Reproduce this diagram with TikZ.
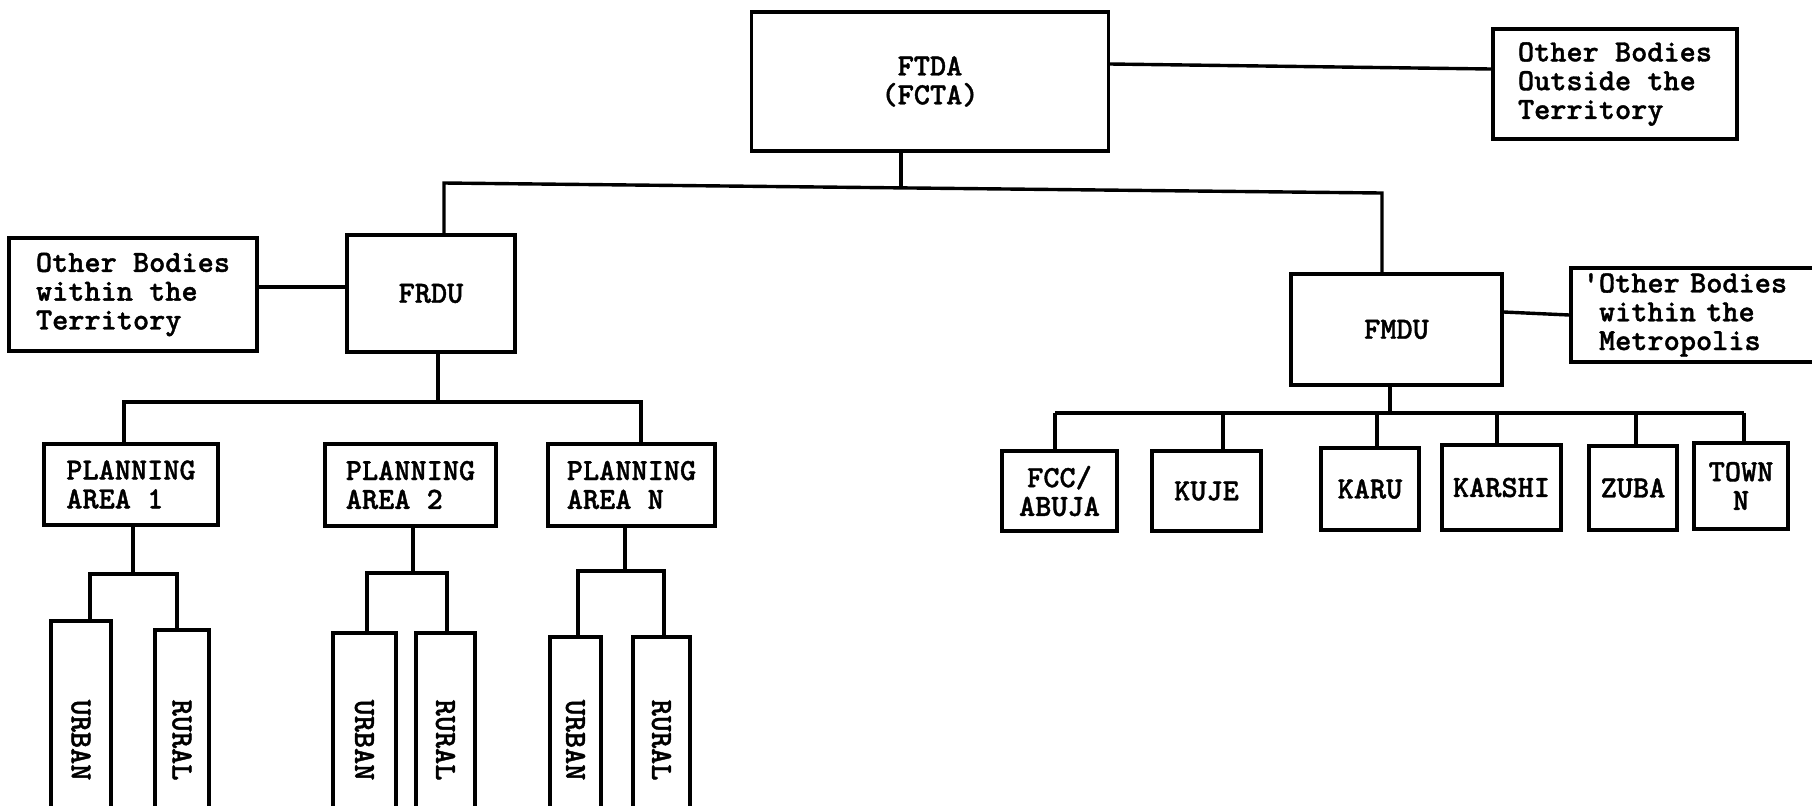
\documentclass[tikz,border=0pt]{standalone}
\usepackage{fontspec}
\newfontfamily\tw{lmmonolt10-bold.otf}[FakeBold=1.2]
\begin{document}
\begin{tikzpicture}[x=0.5pt,y=-0.5pt,
  ln/.style={line width=1.7pt},
  box/.style={draw,line width=1.7pt,inner sep=0pt,align=center,font=\tw\fontsize{15.4pt}{14.4pt}\selectfont},
  lbox/.style={box,align=left}]
\useasboundingbox (0,0) rectangle (1812,805);
\clip (0,0) rectangle (1812,805);
% top level
\node[box,minimum width=178.5pt,minimum height=69.5pt] (ftda) at (930,81.5) {FTDA\\(FCTA)};
\node[lbox,minimum width=122pt,minimum height=55pt] (outside) at (1615,84) {Other Bodies\\Outside the\\Territory};
% second level
\node[box,minimum width=84pt,minimum height=58.5pt] (frdu) at (431,293.5) {FRDU};
\node[lbox,minimum width=124pt,minimum height=56.5pt] (terr) at (133,294.5) {Other Bodies\\within the\\Territory};
\node[box,minimum width=105.5pt,minimum height=55.5pt] (fmdu) at (1396.5,329.5) {FMDU};
\node[box,align=left,text width=116pt,inner xsep=14pt,minimum height=47pt] (metro) at (1715,315) {\llap{'}Other Bodies\\within the\\Metropolis};
% planning areas
\node[lbox,minimum width=87pt,minimum height=40.5pt] (pa1) at (131,484.5) {PLANNING\\AREA 1};
\node[lbox,minimum width=85.5pt,minimum height=41pt] (pa2) at (410.5,485) {PLANNING\\AREA 2};
\node[lbox,minimum width=83.5pt,minimum height=41pt] (paN) at (631.5,485) {PLANNING\\AREA N};
% urban / rural
\node[box,minimum width=30pt,minimum height=119pt] (urban1) at (81,740) {\rotatebox{-90}{URBAN}};
\node[box,minimum width=27pt,minimum height=110pt] (rural1) at (182,740) {\rotatebox{-90}{RURAL}};
\node[box,minimum width=31.5pt,minimum height=107pt] (urban2) at (364.5,740) {\rotatebox{-90}{URBAN}};
\node[box,minimum width=29.5pt,minimum height=107pt] (rural2) at (445.5,740) {\rotatebox{-90}{RURAL}};
\node[box,minimum width=25.5pt,minimum height=103pt] (urbanN) at (575.5,740) {\rotatebox{-90}{URBAN}};
\node[box,minimum width=28.5pt,minimum height=103pt] (ruralN) at (661.5,740) {\rotatebox{-90}{RURAL}};
% towns
\node[box,minimum width=57.5pt,minimum height=40pt] (fcc) at (1059.5,491) {FCC/\\ABUJA};
\node[box,minimum width=54.5pt,minimum height=40pt] (kuje) at (1206.5,491) {KUJE};
\node[box,minimum width=49pt,minimum height=41pt] (karu) at (1370,489) {KARU};
\node[box,minimum width=59.5pt,minimum height=42.5pt] (karshi) at (1501.5,487.5) {KARSHI};
\node[box,minimum width=44pt,minimum height=42pt] (zuba) at (1633,488) {ZUBA};
\node[box,minimum width=47pt,minimum height=43pt] (town) at (1741,486) {TOWN\\N};
% bus coordinates
\coordinate (b0) at (901,187);
\coordinate (bl) at (444,183);
\coordinate (br) at (1382,193);
\coordinate (fb) at (438,402);
\coordinate (fbl) at (124,402);
\coordinate (fbr) at (641,402);
\coordinate (p1) at (133,574);
\coordinate (p1l) at (90,574);
\coordinate (p1r) at (177,574);
\coordinate (p2) at (413,573);
\coordinate (p2l) at (367,573);
\coordinate (p2r) at (447,573);
\coordinate (p3) at (625,571);
\coordinate (p3l) at (578,571);
\coordinate (p3r) at (664,571);
\coordinate (m) at (1390,413);
\coordinate (m1) at (1055,413);
\coordinate (m2) at (1223,413);
\coordinate (m3) at (1377,413);
\coordinate (m4) at (1497,413);
\coordinate (m5) at (1636,413);
\coordinate (m6) at (1744,413);
% connectors
\draw[ln] ([yshift=8.75pt]ftda.east) -- ([yshift=7.5pt]outside.west);
\draw[ln] (ftda.south -| b0) -- (b0);
\draw[ln] (frdu.north -| bl) -- (bl) -- (br) -- (fmdu.north -| br);
\draw[ln] ([yshift=3.75pt]terr.east) -- ([yshift=3.25pt]frdu.west);
\draw[ln] ([yshift=8.75pt]fmdu.east) -- ([yshift=0pt]metro.west);
\draw[ln] (frdu.south -| fb) -- (fb);
\draw[ln] (pa1.north -| fbl) -- (fbl) -- (fbr) -- (paN.north -| fbr);
\draw[ln] (pa1.south -| p1) -- (p1);
\draw[ln] (urban1.north -| p1l) -- (p1l) -- (p1r) -- (rural1.north -| p1r);
\draw[ln] (pa2.south -| p2) -- (p2);
\draw[ln] (urban2.north -| p2l) -- (p2l) -- (p2r) -- (rural2.north -| p2r);
\draw[ln] (paN.south -| p3) -- (p3);
\draw[ln] (urbanN.north -| p3l) -- (p3l) -- (p3r) -- (ruralN.north -| p3r);
\draw[ln] (fmdu.south -| m) -- (m);
\draw[ln] (m1) -- (m6);
\draw[ln] (m1) -- (fcc.north -| m1);
\draw[ln] (m2) -- (kuje.north -| m2);
\draw[ln] (m3) -- (karu.north -| m3);
\draw[ln] (m4) -- (karshi.north -| m4);
\draw[ln] (m5) -- (zuba.north -| m5);
\draw[ln] (m6) -- (town.north -| m6);
\end{tikzpicture}
\end{document}
